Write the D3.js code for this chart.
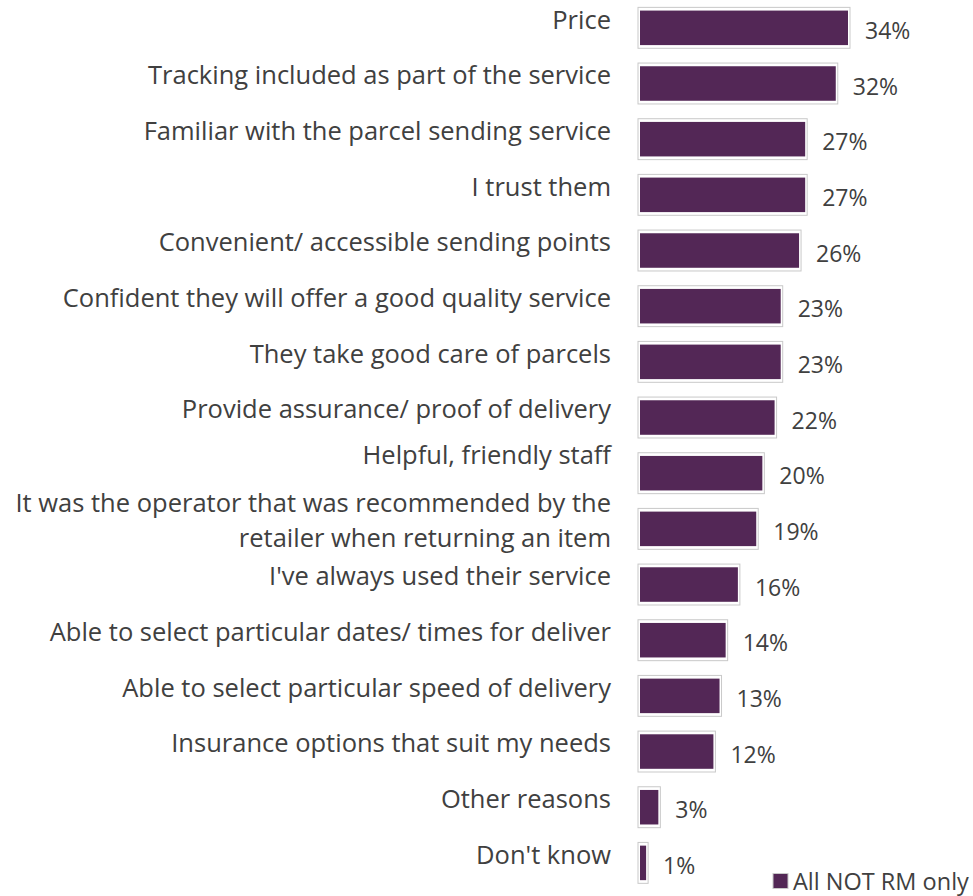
<!DOCTYPE html>
<html>
<head>
<meta charset="utf-8">
<script src="https://cdn.jsdelivr.net/npm/d3@7"></script>
<style>
  html, body { margin: 0; padding: 0; background: #ffffff; }
  svg { display: block; }
  text { font-family: "Open Sans", sans-serif; fill: #404040; }
</style>
</head>
<body>
<svg id="chart" width="973" height="896"></svg>
<script>
// Reasons for choosing a parcel operator (share of respondents)
const categories = [
  "Price",
  "Tracking included as part of the service",
  "Familiar with the parcel sending service",
  "I trust them",
  "Convenient/ accessible sending points",
  "Confident they will offer a good quality service",
  "They take good care of parcels",
  "Provide assurance/ proof of delivery",
  "Helpful, friendly staff",
  "It was the operator that was recommended by the\nretailer when returning an item",
  "I've always used their service",
  "Able to select particular dates/ times for deliver",
  "Able to select particular speed of delivery",
  "Insurance options that suit my needs",
  "Other reasons",
  "Don't know"
];
const values = [34, 32, 27, 27, 26, 23, 23, 22, 20, 19, 16, 14, 13, 12, 3, 1];
const seriesName = "All NOT RM only";
const barColor = "#532756";

const svg = d3.select("#chart");
const step = 55.67;
const n = categories.length;

const y = d3.scaleBand()
  .domain(categories)
  .range([0, n * step])
  .paddingInner(0.38)
  .paddingOuter(0.19);

const x = d3.scaleLinear()
  .domain([0, 34])
  .range([640, 848]);

const rows = svg.append("g")
  .selectAll("g")
  .data(categories.map((c, i) => ({ c, v: values[i], i })))
  .join("g");

// light outer frame around each bar
rows.append("rect")
  .attr("x", x(0) - 2)
  .attr("y", d => y(d.c) - 3.2)
  .attr("width", d => x(d.v) - x(0) + 4)
  .attr("height", y.bandwidth() + 6.4)
  .attr("fill", "#ffffff")
  .attr("stroke", "#c9c9c9")
  .attr("stroke-width", 1);

rows.append("rect")
  .attr("x", x(0))
  .attr("y", d => y(d.c))
  .attr("width", d => x(d.v) - x(0))
  .attr("height", y.bandwidth())
  .attr("fill", barColor);

// category labels, right-aligned left of the bars;
// a label sitting just above a wrapped label is nudged up to make room
const lineGap = 35;
const isWrapped = i => i < n && categories[i].includes("\n");
rows.append("text")
  .attr("text-anchor", "end")
  .attr("font-size", 25.5)
  .each(function(d) {
    const lines = d.c.split("\n");
    const nudge = isWrapped(d.i + 1) ? 10 : 0;
    const cy = y(d.c) + y.bandwidth() / 2 - 8 - nudge;
    const t = d3.select(this);
    lines.forEach((ln, k) => {
      t.append("tspan")
        .attr("x", 611)
        .attr("y", cy + (k - (lines.length - 1) / 2) * lineGap)
        .attr("dy", "0.35em")
        .text(ln);
    });
  });

// value labels
rows.append("text")
  .attr("x", d => x(d.v) + 17)
  .attr("y", d => y(d.c) + y.bandwidth() / 2 + 3)
  .attr("dy", "0.35em")
  .attr("font-size", 23)
  .text(d => d.v + "%");

// legend
const legend = svg.append("g");
legend.append("rect")
  .attr("x", 773).attr("y", 873.5)
  .attr("width", 15).attr("height", 15)
  .attr("fill", barColor)
  .attr("stroke", "#c9c9c9").attr("stroke-width", 1);
legend.append("text")
  .attr("x", 793).attr("y", 882)
  .attr("dy", "0.35em")
  .attr("font-size", 23.5)
  .text(seriesName);
</script>
</body>
</html>
